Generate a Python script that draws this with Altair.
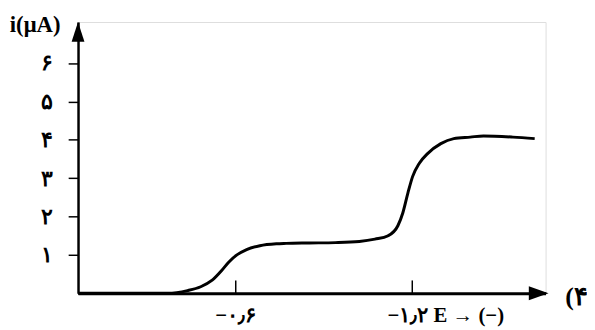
import altair as alt
import pandas as pd

# curve: x = -E (V), y = i (µA)
neg_E = [0.064, 0.369, 0.436, 0.481, 0.520, 0.553, 0.576, 0.604, 0.637, 0.682,
         0.738, 0.771, 0.850, 0.939, 1.020, 1.073, 1.118, 1.151, 1.168, 1.185,
         1.201, 1.224, 1.252, 1.297, 1.341, 1.397, 1.442, 1.542, 1.616]
current = [0.0, 0.0, 0.07, 0.17, 0.34, 0.60, 0.81, 1.00, 1.14, 1.24,
           1.29, 1.30, 1.31, 1.32, 1.35, 1.41, 1.50, 1.76, 2.10, 2.61,
           3.04, 3.39, 3.64, 3.90, 4.03, 4.07, 4.10, 4.07, 4.03]

y_ticks = [1, 2, 3, 4, 5, 6]
x_ticks = [0.6, 1.2]
x_labels = ["−۰٫۶", "−۱٫۲ E → (−)"]

FONT = "Liberation Serif"

curve = pd.DataFrame({"E": neg_E, "i": current})
xt = pd.DataFrame({"E": x_ticks, "label": x_labels})

xs = alt.Scale(domain=[0.064, 1.653], nice=False, zero=False)
ys = alt.Scale(domain=[0, 7.07], nice=False)

persian = ("replace(replace(replace(replace(replace(replace(toString(datum.value),"
           "'1','۱'),'2','۲'),'3','۳'),'4','۴'),'5','۵'),'6','۶')")

line = alt.Chart(curve).mark_line(color="black", strokeWidth=3, interpolate="monotone").encode(
    x=alt.X("E:Q", scale=xs, axis=alt.Axis(domainColor="black", domainWidth=3, ticks=False,
                                           labels=False, grid=False, title=None)),
    y=alt.Y("i:Q", scale=ys, axis=alt.Axis(values=y_ticks, domainColor="black", domainWidth=2.5,
                                           tickColor="black", tickWidth=1.5, tickSize=10,
                                           labelExpr=persian, labelFont=FONT, labelFontSize=22,
                                           labelFontWeight="bold", labelColor="black", labelPadding=16,
                                           grid=False, title="i(μA)", titleAngle=0, titleFont=FONT,
                                           titleFontSize=23, titleFontWeight="bold", titleColor="black",
                                           titleAlign="center", titleBaseline="middle",
                                           titleX=-44, titleY=3)),
)

ticks = alt.Chart(xt).mark_rule(color="black", strokeWidth=1.5).encode(
    x=alt.X("E:Q", scale=xs), y=alt.value(262), y2=alt.value(275)
)

lab1 = alt.Chart(xt).transform_filter("datum.E < 1").mark_text(
    font=FONT, fontSize=21, fontWeight="bold", color="black", align="center", baseline="middle"
).encode(x=alt.X("E:Q", scale=xs), y=alt.value(298), text="label:N")

lab2 = alt.Chart(xt).transform_filter("datum.E > 1").mark_text(
    font=FONT, fontSize=21, fontWeight="bold", color="black", align="left", baseline="middle", dx=-25
).encode(x=alt.X("E:Q", scale=xs), y=alt.value(298), text="label:N")

yarrow = alt.Chart(curve).transform_filter("datum.E < 0.1").mark_point(
    shape="M0,-1L0.65,1L-0.65,1Z", size=400, filled=True, color="black", opacity=1, strokeWidth=0
).encode(x=alt.value(0), y=alt.value(10))

xarrow = alt.Chart(curve).transform_filter("datum.E < 0.1").mark_point(
    shape="M1,0L-1,0.7L-1,-0.7Z", size=400, filled=True, color="black", opacity=1, strokeWidth=0
).encode(x=alt.value(467), y=alt.value(275))

tag = alt.Chart(curve).transform_filter("datum.E < 0.1").mark_text(
    text="(۴", font=FONT, fontSize=26, fontWeight="bold", color="black", align="left", baseline="middle"
).encode(x=alt.value(494), y=alt.value(279))

chart = alt.layer(line, ticks, lab1, lab2, yarrow, xarrow, tag).properties(
    width=474, height=275,
    autosize=alt.AutoSizeParams(type="none"),
    padding={"left": 71, "top": 12, "right": 42, "bottom": 32},
).configure_view(stroke=None).configure(background="white")

chart.save("out.html", embed_options={"renderer": "svg", "actions": False})
